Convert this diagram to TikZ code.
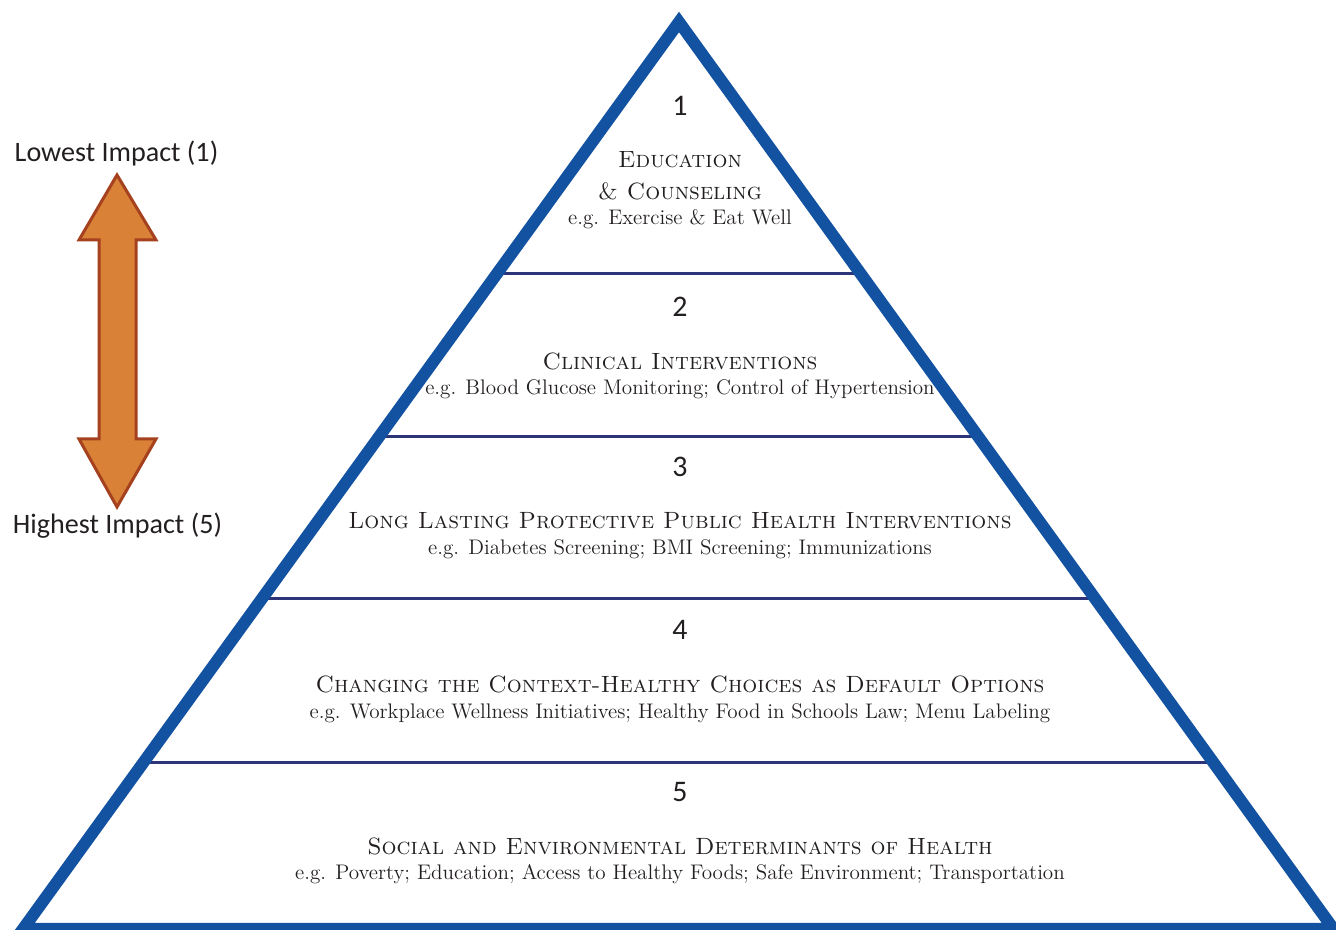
\documentclass[tikz,border=0pt]{standalone}
\usepackage{fontspec}
\newfontfamily\labelfont{Carlito}
\usetikzlibrary{calc}
\definecolor{pyrblue}{RGB}{19,82,161}
\definecolor{tiernavy}{RGB}{45,52,120}
\definecolor{arrowfill}{RGB}{217,130,55}
\definecolor{arrowline}{RGB}{165,65,30}
\definecolor{inkgray}{RGB}{35,31,32}
\tikzset{
	tiertitle/.style={anchor=base, inner sep=0pt, text=inkgray, font=\fontsize{13.4}{16}\selectfont\scshape},
	tiernote/.style={anchor=base, inner sep=0pt, text=inkgray, font=\fontsize{12}{14}\selectfont},
	tiernum/.style={inner sep=0pt, text=inkgray, font=\labelfont\fontsize{17}{20}\selectfont},
	sidelabel/.style={inner sep=0pt, text=inkgray, font=\labelfont\fontsize{16}{19}\selectfont}
}

\begin{document}
\begin{tikzpicture}
			%%%%% START %%%%%
			\useasboundingbox (0, 0) rectangle (26.72, 18.6);
			
			\coordinate (apex) at (13.58, 18.16);
			\coordinate (baseL) at (0.46, 0.02);
			\coordinate (baseR) at (26.67, 0.02);
			
			% tier dividers
			\begin{scope}
				\clip (apex) -- (baseR) -- (baseL) -- cycle;
				\foreach \y in {13.12, 9.86, 6.62, 3.34}
					\draw[tiernavy, line width=0.6mm] (0, \y) -- (26.72, \y);
			\end{scope}
			
			\draw[pyrblue, line width=2.4mm, line join=miter] (apex) -- (baseR) -- (baseL) -- cycle;
			
			% tier 1
			\node[tiernum] (num1) at (13.6, 16.48) {1};
			\node[tiertitle] (title1a) at (13.6, 15.24) {Education};
			\node[tiertitle] (title1b) at (13.6, 14.6) {\& Counseling};
			\node[tiernote] (note1) at (13.6, 14.1) {e.g. Exercise \& Eat Well};
			
			% tier 2
			\node[tiernum] (num2) at (13.6, 12.46) {2};
			\node[tiertitle] (title2) at (13.6, 11.2) {Clinical Interventions};
			\node[tiernote] (note2) at (13.6, 10.7) {e.g. Blood Glucose Monitoring; Control of Hypertension};
			
			% tier 3
			\node[tiernum] (num3) at (13.6, 9.26) {3};
			\node[tiertitle] (title3) at (13.6, 8.02) {Long Lasting Protective Public Health Interventions};
			\node[tiernote] (note3) at (13.6, 7.5) {e.g. Diabetes Screening; BMI Screening; Immunizations};
			
			% tier 4
			\node[tiernum] (num4) at (13.6, 6.0) {4};
			\node[tiertitle] (title4) at (13.6, 4.74) {Changing the Context-Healthy Choices as Default Options};
			\node[tiernote] (note4) at (13.6, 4.22) {e.g. Workplace Wellness Initiatives; Healthy Food in Schools Law; Menu Labeling};
			
			% tier 5
			\node[tiernum] (num5) at (13.6, 2.76) {5};
			\node[tiertitle] (title5) at (13.6, 1.5) {Social and Environmental Determinants of Health};
			\node[tiernote] (note5) at (13.6, 1.0) {e.g. Poverty; Education; Access to Healthy Foods; Safe Environment; Transportation};
			
			% impact arrow
			\draw[arrowline, fill=arrowfill, line width=0.6mm] (2.34, 15.1) -- (3.12, 13.8) -- (2.72, 13.8) -- (2.72, 9.82) -- (3.12, 9.82) -- (2.34, 8.46) -- (1.58, 9.82) -- (1.98, 9.82) -- (1.98, 13.8) -- (1.58, 13.8) -- cycle;
			
			\node[sidelabel] (lowest) at (2.33, 15.54) {Lowest Impact (1)};
			\node[sidelabel] (highest) at (2.35, 8.08) {Highest Impact (5)};
			%%%%% END %%%%%
\end{tikzpicture}
\end{document}
